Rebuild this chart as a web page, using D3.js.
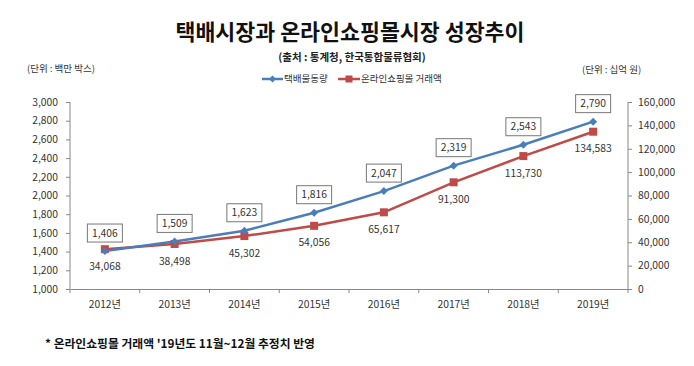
<!DOCTYPE html>
<html><head><meta charset="utf-8">
<script src="https://cdn.jsdelivr.net/npm/d3@7"></script>
<style>
body{margin:0;background:#fff;}
svg{display:block;font-family:"Noto Sans CJK KR","Noto Sans",sans-serif;}
</style></head>
<body>
<svg id="c" width="694" height="366"></svg>
<script>
const categories = ["2012년","2013년","2014년","2015년","2016년","2017년","2018년","2019년"];
const parcelVolume = [1406,1509,1623,1816,2047,2319,2543,2790];
const onlineSales = [34068,38498,45302,54056,65617,91300,113730,134583];
const leftTicks = [1000,1200,1400,1600,1800,2000,2200,2400,2600,2800,3000];
const rightTicks = [0,20000,40000,60000,80000,100000,120000,140000,160000];
const seriesNames = ["택배물동량","온라인쇼핑몰 거래액"];

const svg = d3.select("#c");
const W=694;
const blue="#4A7EBB", red="#BE4B48", axisCol="#888";
const fmt = d3.format(",");
const m={l:70,r:628,t:102,b:289};

const x = d3.scaleBand().domain(categories).range([m.l,m.r]);
const yL = d3.scaleLinear().domain([1000,3000]).range([m.b,m.t]);
const yR = d3.scaleLinear().domain([0,160000]).range([m.b,m.t]);
const cx = d=>x(d)+x.bandwidth()/2;

// titles
svg.append("text").attr("x",W/2+3).attr("y",40).attr("text-anchor","middle")
  .attr("font-size",21.7).attr("font-weight","bold").attr("fill","#111").text("택배시장과 온라인쇼핑몰시장 성장추이");
svg.append("text").attr("x",352).attr("y",61).attr("text-anchor","middle")
  .attr("font-size",10.5).attr("font-weight","bold").attr("fill","#222").text("(출처 : 통계청, 한국통합물류협회)");
svg.append("text").attr("x",27).attr("y",72).attr("font-size",9.5).attr("fill","#333").text("(단위 : 백만 박스)");
svg.append("text").attr("x",582).attr("y",73).attr("font-size",9.5).attr("fill","#333").text("(단위 : 십억 원)");
svg.append("text").attr("x",45).attr("y",348).attr("font-size",11.8).attr("font-weight","bold").attr("fill","#111")
  .text("* 온라인쇼핑몰 거래액 '19년도 11월~12월 추정치 반영");

// axes
const gL = svg.append("g").attr("transform",`translate(${m.l},0)`)
  .call(d3.axisLeft(yL).tickValues(leftTicks).tickFormat(fmt).tickSize(4).tickPadding(8));
const gR = svg.append("g").attr("transform",`translate(${m.r},0)`)
  .call(d3.axisRight(yR).tickValues(rightTicks).tickFormat(fmt).tickSize(4).tickPadding(6));
const gX = svg.append("g").attr("transform",`translate(0,${m.b})`)
  .call(d3.axisBottom(x).tickSize(0).tickPadding(12));
[gL,gR,gX].forEach(g=>{
  g.select(".domain").attr("stroke",axisCol);
  g.selectAll(".tick line").attr("stroke",axisCol);
  g.selectAll("text").attr("font-size",10.3).attr("fill","#333").attr("font-family",'"Noto Sans CJK KR","Noto Sans",sans-serif');
});
gL.select(".domain").attr("d",`M-0,${m.t}V${m.b}`);
gR.select(".domain").attr("d",`M0,${m.t}V${m.b}`);
// category boundary ticks
const bounds = categories.map(c=>x(c)).concat([m.r]);
svg.append("g").selectAll("line").data(bounds).join("line")
  .attr("x1",d=>d).attr("x2",d=>d).attr("y1",m.b).attr("y2",m.b+4).attr("stroke",axisCol);

// lines
const lineL = d3.line().x((d,i)=>cx(categories[i])).y(d=>yL(d));
const lineR = d3.line().x((d,i)=>cx(categories[i])).y(d=>yR(d));
svg.append("path").datum(onlineSales).attr("d",lineR).attr("fill","none").attr("stroke",red).attr("stroke-width",2.5);
svg.append("path").datum(parcelVolume).attr("d",lineL).attr("fill","none").attr("stroke",blue).attr("stroke-width",2.5);

// markers
svg.append("g").selectAll("rect").data(onlineSales).join("rect")
  .attr("x",(d,i)=>cx(categories[i])-4).attr("y",d=>yR(d)-4).attr("width",8).attr("height",8).attr("fill",red);
svg.append("g").selectAll("path").data(parcelVolume).join("path")
  .attr("d",(d,i)=>{const X=cx(categories[i]),Y=yL(d);return `M${X},${Y-4}L${X+4},${Y}L${X},${Y+4}L${X-4},${Y}Z`;})
  .attr("fill",blue);

// blue labels in boxes
const bl = svg.append("g").selectAll("g").data(parcelVolume).join("g")
  .attr("transform",(d,i)=>`translate(${cx(categories[i])},${yL(d)-18})`);
bl.append("rect").attr("x",-17.5).attr("y",-9).attr("width",35).attr("height",18)
  .attr("fill","#fff").attr("stroke","#777").attr("stroke-width",1);
bl.append("text").attr("text-anchor","middle").attr("dy","0.35em").attr("font-size",10.3).attr("fill","#333").text(d=>fmt(d));

// red labels
svg.append("g").selectAll("text").data(onlineSales).join("text")
  .attr("x",(d,i)=>cx(categories[i])).attr("y",d=>yR(d)+17).attr("dy","0.35em")
  .attr("text-anchor","middle").attr("font-size",10.3).attr("fill","#333").text(d=>fmt(d));

// legend
const lg = svg.append("g").attr("transform","translate(0,79)");
lg.append("line").attr("x1",262).attr("x2",283).attr("stroke",blue).attr("stroke-width",2.5);
lg.append("path").attr("d","M272.5,-3.5L276,0L272.5,3.5L269,0Z").attr("fill",blue);
lg.append("text").attr("x",284).attr("dy","0.35em").attr("font-size",9.5).attr("fill","#333").text(seriesNames[0]);
lg.append("line").attr("x1",338).attr("x2",360).attr("stroke",red).attr("stroke-width",2.5);
lg.append("rect").attr("x",345.5).attr("y",-3.5).attr("width",7).attr("height",7).attr("fill",red);
lg.append("text").attr("x",361).attr("dy","0.35em").attr("font-size",9.5).attr("fill","#333").text(seriesNames[1]);
</script>
</body></html>
